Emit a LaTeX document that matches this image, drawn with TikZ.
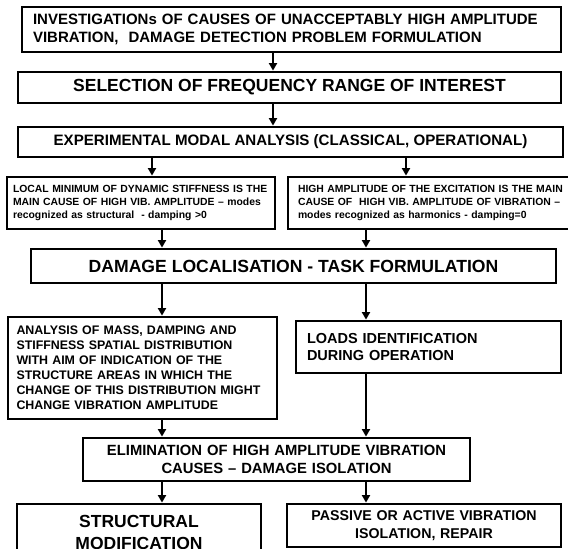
\documentclass[tikz,border=0pt]{standalone}
\usepackage{fontspec}
\setmainfont{Liberation Sans}
\usetikzlibrary{arrows.meta}
\newcommand\fsz[2]{\fontsize{#1}{#2}\selectfont}
\begin{document}
\begin{tikzpicture}[x=1pt,y=-1pt,
  box/.style={draw, line width=2.8pt, inner sep=0pt, rectangle},
  arr/.style={line width=1.8pt, -{Triangle[length=7.5pt,width=8pt]}}]
\useasboundingbox (0,0) rectangle (568,549);
\fill[white] (0,0) rectangle (568,549);
\clip (0,0) rectangle (568,549);
% columns of the connectors
\coordinate (cA) at (273,0);
\coordinate (cB) at (152,0);
\coordinate (cC) at (406,0);
\coordinate (cL) at (162,0);
\coordinate (cR) at (366,0);
% boxes
\node[box, minimum width=539pt, minimum height=45pt, text width=517pt, align=left,
      font=\bfseries\fsz{15}{17.5}] (b1) at (291.5,29.5)
  {INVESTIGATIONs OF CAUSES OF UNACCEPTABLY HIGH AMPLITUDE\\VIBRATION,\ \ DAMAGE DETECTION PROBLEM FORMULATION};
\node[box, minimum width=543pt, minimum height=31pt, font=\bfseries\fsz{17.5}{20}] (b2) at (289.5,87.5)
  {SELECTION OF FREQUENCY RANGE OF INTEREST};
\node[box, minimum width=545pt, minimum height=30pt, font=\bfseries\fsz{15.1}{18}] (b3) at (290.5,142)
  {EXPERIMENTAL MODAL ANALYSIS (CLASSICAL, OPERATIONAL)};
\node[box, minimum width=268pt, minimum height=52pt, text width=256pt, align=left,
      font=\bfseries\fsz{10.4}{13}] (b4a) at (141,203)
  {LOCAL MINIMUM OF DYNAMIC STIFFNESS IS THE\\MAIN CAUSE OF HIGH VIB. AMPLITUDE -- modes\\recognized as structural\ \ - damping >0};
\node[box, minimum width=292pt, minimum height=52pt, text width=272pt, align=left,
      font=\bfseries\fsz{10.4}{13}] (b4b) at (434,203)
  {HIGH AMPLITUDE OF THE EXCITATION IS THE MAIN\\CAUSE OF\ \ HIGH VIB. AMPLITUDE OF VIBRATION --\\modes recognized as harmonics - damping=0};
\node[box, minimum width=525pt, minimum height=34pt, font=\bfseries\fsz{17.6}{20}] (b5) at (293.5,266)
  {DAMAGE LOCALISATION - TASK FORMULATION};
\node[box, minimum width=269pt, minimum height=102pt, text width=252pt, align=left,
      font=\bfseries\fsz{12.4}{15}] (b6a) at (142.5,368)
  {\makebox[252pt][s]{ANALYSIS OF MASS, DAMPING AND}\\
   \makebox[252pt][s]{STIFFNESS SPATIAL DISTRIBUTION}\\
   \makebox[252pt][s]{WITH AIM OF INDICATION OF THE}\\
   \makebox[252pt][s]{STRUCTURE AREAS IN WHICH THE}\\
   \makebox[252pt][s]{CHANGE OF THIS DISTRIBUTION MIGHT}\\
   CHANGE VIBRATION AMPLITUDE};
\node[box, minimum width=265pt, minimum height=52pt, text width=243pt, align=left,
      font=\bfseries\fsz{14.5}{17}] (b6b) at (428.5,347)
  {LOADS IDENTIFICATION\\DURING OPERATION};
\node[box, minimum width=387pt, minimum height=43pt, text width=370pt, align=center,
      font=\bfseries\fsz{14.8}{18}] (b7) at (276.5,459.5)
  {ELIMINATION OF HIGH AMPLITUDE VIBRATION\\CAUSES -- DAMAGE ISOLATION};
\node[box, minimum width=244pt, minimum height=56pt, text width=230pt, align=center,
      font=\bfseries\fsz{17.5}{22}] (b8a) at (139,532)
  {STRUCTURAL\\MODIFICATION};
\node[box, minimum width=274pt, minimum height=43pt, text width=260pt, align=center,
      font=\bfseries\fsz{14.2}{18}] (b8b) at (424,525.5)
  {PASSIVE OR ACTIVE VIBRATION\\ISOLATION, REPAIR};
% connectors
\draw[arr] (b1.south -| cA) -- (b2.north -| cA);
\draw[arr] (b2.south -| cA) -- (b3.north -| cA);
\draw[arr] (b3.south -| cB) -- (b4a.north -| cB);
\draw[arr] (b3.south -| cC) -- (b4b.north -| cC);
\draw[arr] (b4a.south -| cL) -- (b5.north -| cL);
\draw[arr] (b4b.south -| cR) -- (b5.north -| cR);
\draw[arr] (b5.south -| cL) -- (b6a.north -| cL);
\draw[arr] (b5.south -| cR) -- (b6b.north -| cR);
\draw[arr] (b6a.south -| cL) -- (b7.north -| cL);
\draw[arr] (b6b.south -| cR) -- (b7.north -| cR);
\draw[arr] (b7.south -| cL) -- (b8a.north -| cL);
\draw[arr] (b7.south -| cR) -- (b8b.north -| cR);
\end{tikzpicture}
\end{document}
